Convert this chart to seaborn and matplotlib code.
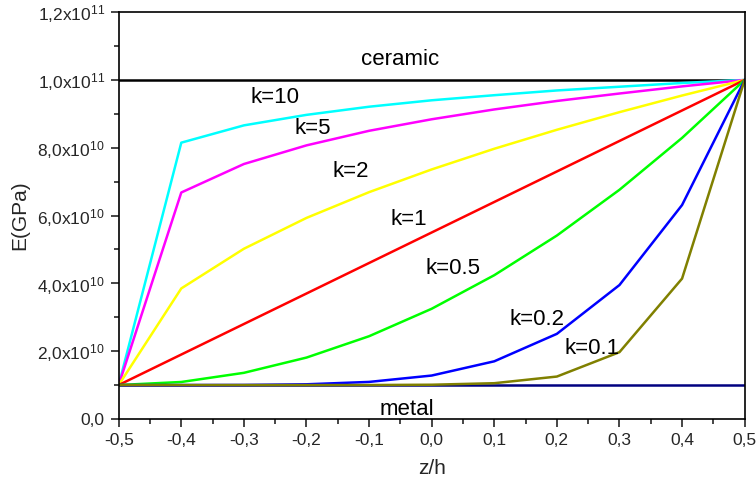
import matplotlib
matplotlib.use("Agg")
import math
import matplotlib.pyplot as plt
import seaborn as sns
import pandas as pd
from matplotlib.ticker import FuncFormatter, MultipleLocator

z = [-0.5, -0.4, -0.3, -0.2, -0.1, 0.0, 0.1, 0.2, 0.3, 0.4, 0.5]
E_k10 = [1.00e10, 8.15e10, 8.66e10, 8.97e10, 9.21e10, 9.40e10, 9.55e10, 9.69e10, 9.80e10, 9.91e10, 1.00e11]
E_k5 = [1.00e10, 6.68e10, 7.52e10, 8.07e10, 8.50e10, 8.84e10, 9.13e10, 9.38e10, 9.60e10, 9.81e10, 1.00e11]
E_k2 = [1.00e10, 3.85e10, 5.02e10, 5.93e10, 6.69e10, 7.36e10, 7.97e10, 8.53e10, 9.05e10, 9.54e10, 1.00e11]
E_k1 = [1.00e10, 1.90e10, 2.80e10, 3.70e10, 4.60e10, 5.50e10, 6.40e10, 7.30e10, 8.20e10, 9.10e10, 1.00e11]
E_k05 = [1.00e10, 1.09e10, 1.36e10, 1.81e10, 2.44e10, 3.25e10, 4.24e10, 5.41e10, 6.76e10, 8.29e10, 1.00e11]
E_k02 = [1.00e10, 1.00e10, 1.003e10, 1.022e10, 1.092e10, 1.28e10, 1.70e10, 2.51e10, 3.95e10, 6.31e10, 1.00e11]
E_k01 = [1.00e10, 1.00e10, 1.00e10, 1.00e10, 1.00e10, 1.009e10, 1.054e10, 1.25e10, 1.97e10, 4.14e10, 1.00e11]
E_ceramic = [1.00e11] * 11
E_metal = [1.00e10] * 11

series_names = ["ceramic", "metal", "k=10", "k=5", "k=2", "k=1", "k=0.5", "k=0.2", "k=0.1"]
series_values = [E_ceramic, E_metal, E_k10, E_k5, E_k2, E_k1, E_k05, E_k02, E_k01]
colors = ["#000000", "#000080", "#00FFFF", "#FF00FF", "#FFFF00", "#FF0000", "#00FF00", "#0000FF", "#808000"]

labels_text = ["ceramic", "metal", "k=10", "k=5", "k=2", "k=1", "k=0.5", "k=0.2", "k=0.1"]
labels_x = [-0.05, -0.04, -0.25, -0.19, -0.13, -0.037, 0.034, 0.168, 0.257]
labels_y = [1.06e11, 0.27e10, 9.47e10, 8.58e10, 7.29e10, 5.87e10, 4.45e10, 2.92e10, 2.09e10]

rows = []
for name, vals in zip(series_names, series_values):
    for zi, v in zip(z, vals):
        rows.append({"z": zi, "E": v, "series": name})
df = pd.DataFrame(rows)

sns.set_style("white")
plt.rcParams["font.family"] = ["Liberation Sans", "DejaVu Sans"]
plt.rcParams["mathtext.fontset"] = "custom"
plt.rcParams["mathtext.rm"] = "Liberation Sans"
plt.rcParams["mathtext.it"] = "Liberation Sans"

fig = plt.figure(figsize=(7.56, 4.86), dpi=100)
ax = fig.add_axes([0.157, 0.138, 0.828, 0.837])

sns.lineplot(data=df, x="z", y="E", hue="series", hue_order=series_names,
             palette=dict(zip(series_names, colors)), linewidth=1.8,
             legend=False, ax=ax, sort=False)

for t, x, y in zip(labels_text, labels_x, labels_y):
    ax.text(x, y, t, fontsize=16, ha="center", va="center", color="black")

ax.set_xlim(-0.5, 0.5)
ax.set_ylim(0, 1.2e11)

def yfmt(v, pos):
    if abs(v) < 1:
        return "0,0"
    e = int(math.floor(math.log10(abs(v)) + 1e-9))
    m = v / 10 ** e
    return ("%.1f" % m).replace(".", ",") + "x10$^{%d}$" % e

ax.yaxis.set_major_locator(MultipleLocator(2e10))
ax.yaxis.set_minor_locator(MultipleLocator(1e10))
ax.yaxis.set_major_formatter(FuncFormatter(yfmt))
ax.xaxis.set_major_locator(MultipleLocator(0.1))
ax.xaxis.set_minor_locator(MultipleLocator(0.05))
ax.xaxis.set_major_formatter(FuncFormatter(lambda v, p: ("%.1f" % v).replace(".", ",").replace("-0,0", "0,0")))

ax.tick_params(axis="both", which="major", direction="out", length=6, width=1.2,
               labelsize=12.5, bottom=True, left=True, top=False, right=False, pad=4)
ax.tick_params(axis="both", which="minor", direction="out", length=3.5, width=1.2,
               bottom=True, left=True, top=False, right=False)
for s in ax.spines.values():
    s.set_linewidth(1.2)
    s.set_color("black")

ax.set_xlabel("z/h", fontsize=15, labelpad=8)
ax.set_ylabel("E(GPa)", fontsize=15, labelpad=6)

fig.savefig("out.png", dpi=100)
